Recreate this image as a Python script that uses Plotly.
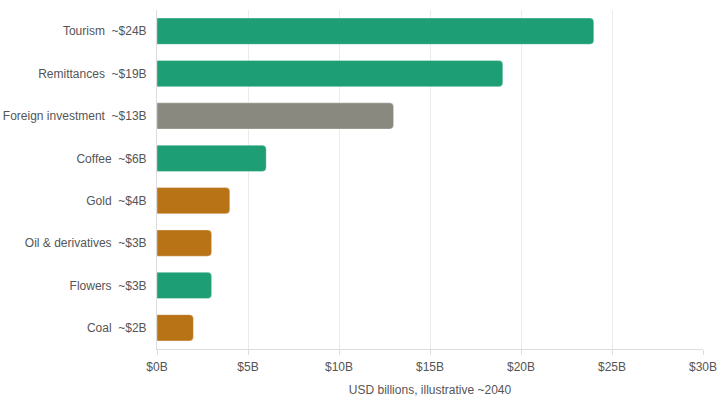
import plotly.graph_objects as go

categories = ["Tourism", "Remittances", "Foreign investment", "Coffee", "Gold",
              "Oil & derivatives", "Flowers", "Coal"]
values = [24, 19, 13, 6, 4, 3, 3, 2]
groups = ["renewable", "renewable", "neutral", "renewable", "extractive",
          "extractive", "renewable", "extractive"]
color_map = {"renewable": "#1e9e75", "neutral": "#8a897f", "extractive": "#b87316"}
tick_vals = [0, 5, 10, 15, 20, 25, 30]
tick_text = ["$0B", "$5B", "$10B", "$15B", "$20B", "$25B", "$30B"]

labels = [f"{c}\u00a0\u00a0~${v}B" for c, v in zip(categories, values)]
colors = [color_map[g] for g in groups]

fig = go.Figure(go.Bar(
    x=values, y=labels, orientation="h",
    marker=dict(color=colors, line=dict(color="rgba(255,255,255,0.35)", width=1),
                cornerradius=4),
    hoverinfo="x+y",
))

fig.update_layout(
    width=720, height=400,
    margin=dict(l=157, r=17, t=10, b=51),
    paper_bgcolor="white", plot_bgcolor="white",
    bargap=0.38,
    showlegend=False,
    font=dict(family="Liberation Sans, Arial, sans-serif", size=12, color="#555555"),
)
fig.update_xaxes(
    range=[0, 30], tickvals=tick_vals, ticktext=tick_text,
    showgrid=True, gridcolor="#ebebeb", gridwidth=1,
    showline=True, linecolor="#dddddd", linewidth=1,
    ticks="outside", ticklen=5, tickcolor="#dddddd",
    ticklabelstandoff=2,
    zeroline=False, automargin=False,
    title=dict(text="USD billions, illustrative ~2040", standoff=12,
               font=dict(size=12, color="#555555")),
)
fig.update_yaxes(
    autorange="reversed", automargin=False,
    showline=True, linecolor="#dddddd", linewidth=1,
    showgrid=False, ticks="", ticklabelstandoff=7,
)

fig.write_html("out.html")
